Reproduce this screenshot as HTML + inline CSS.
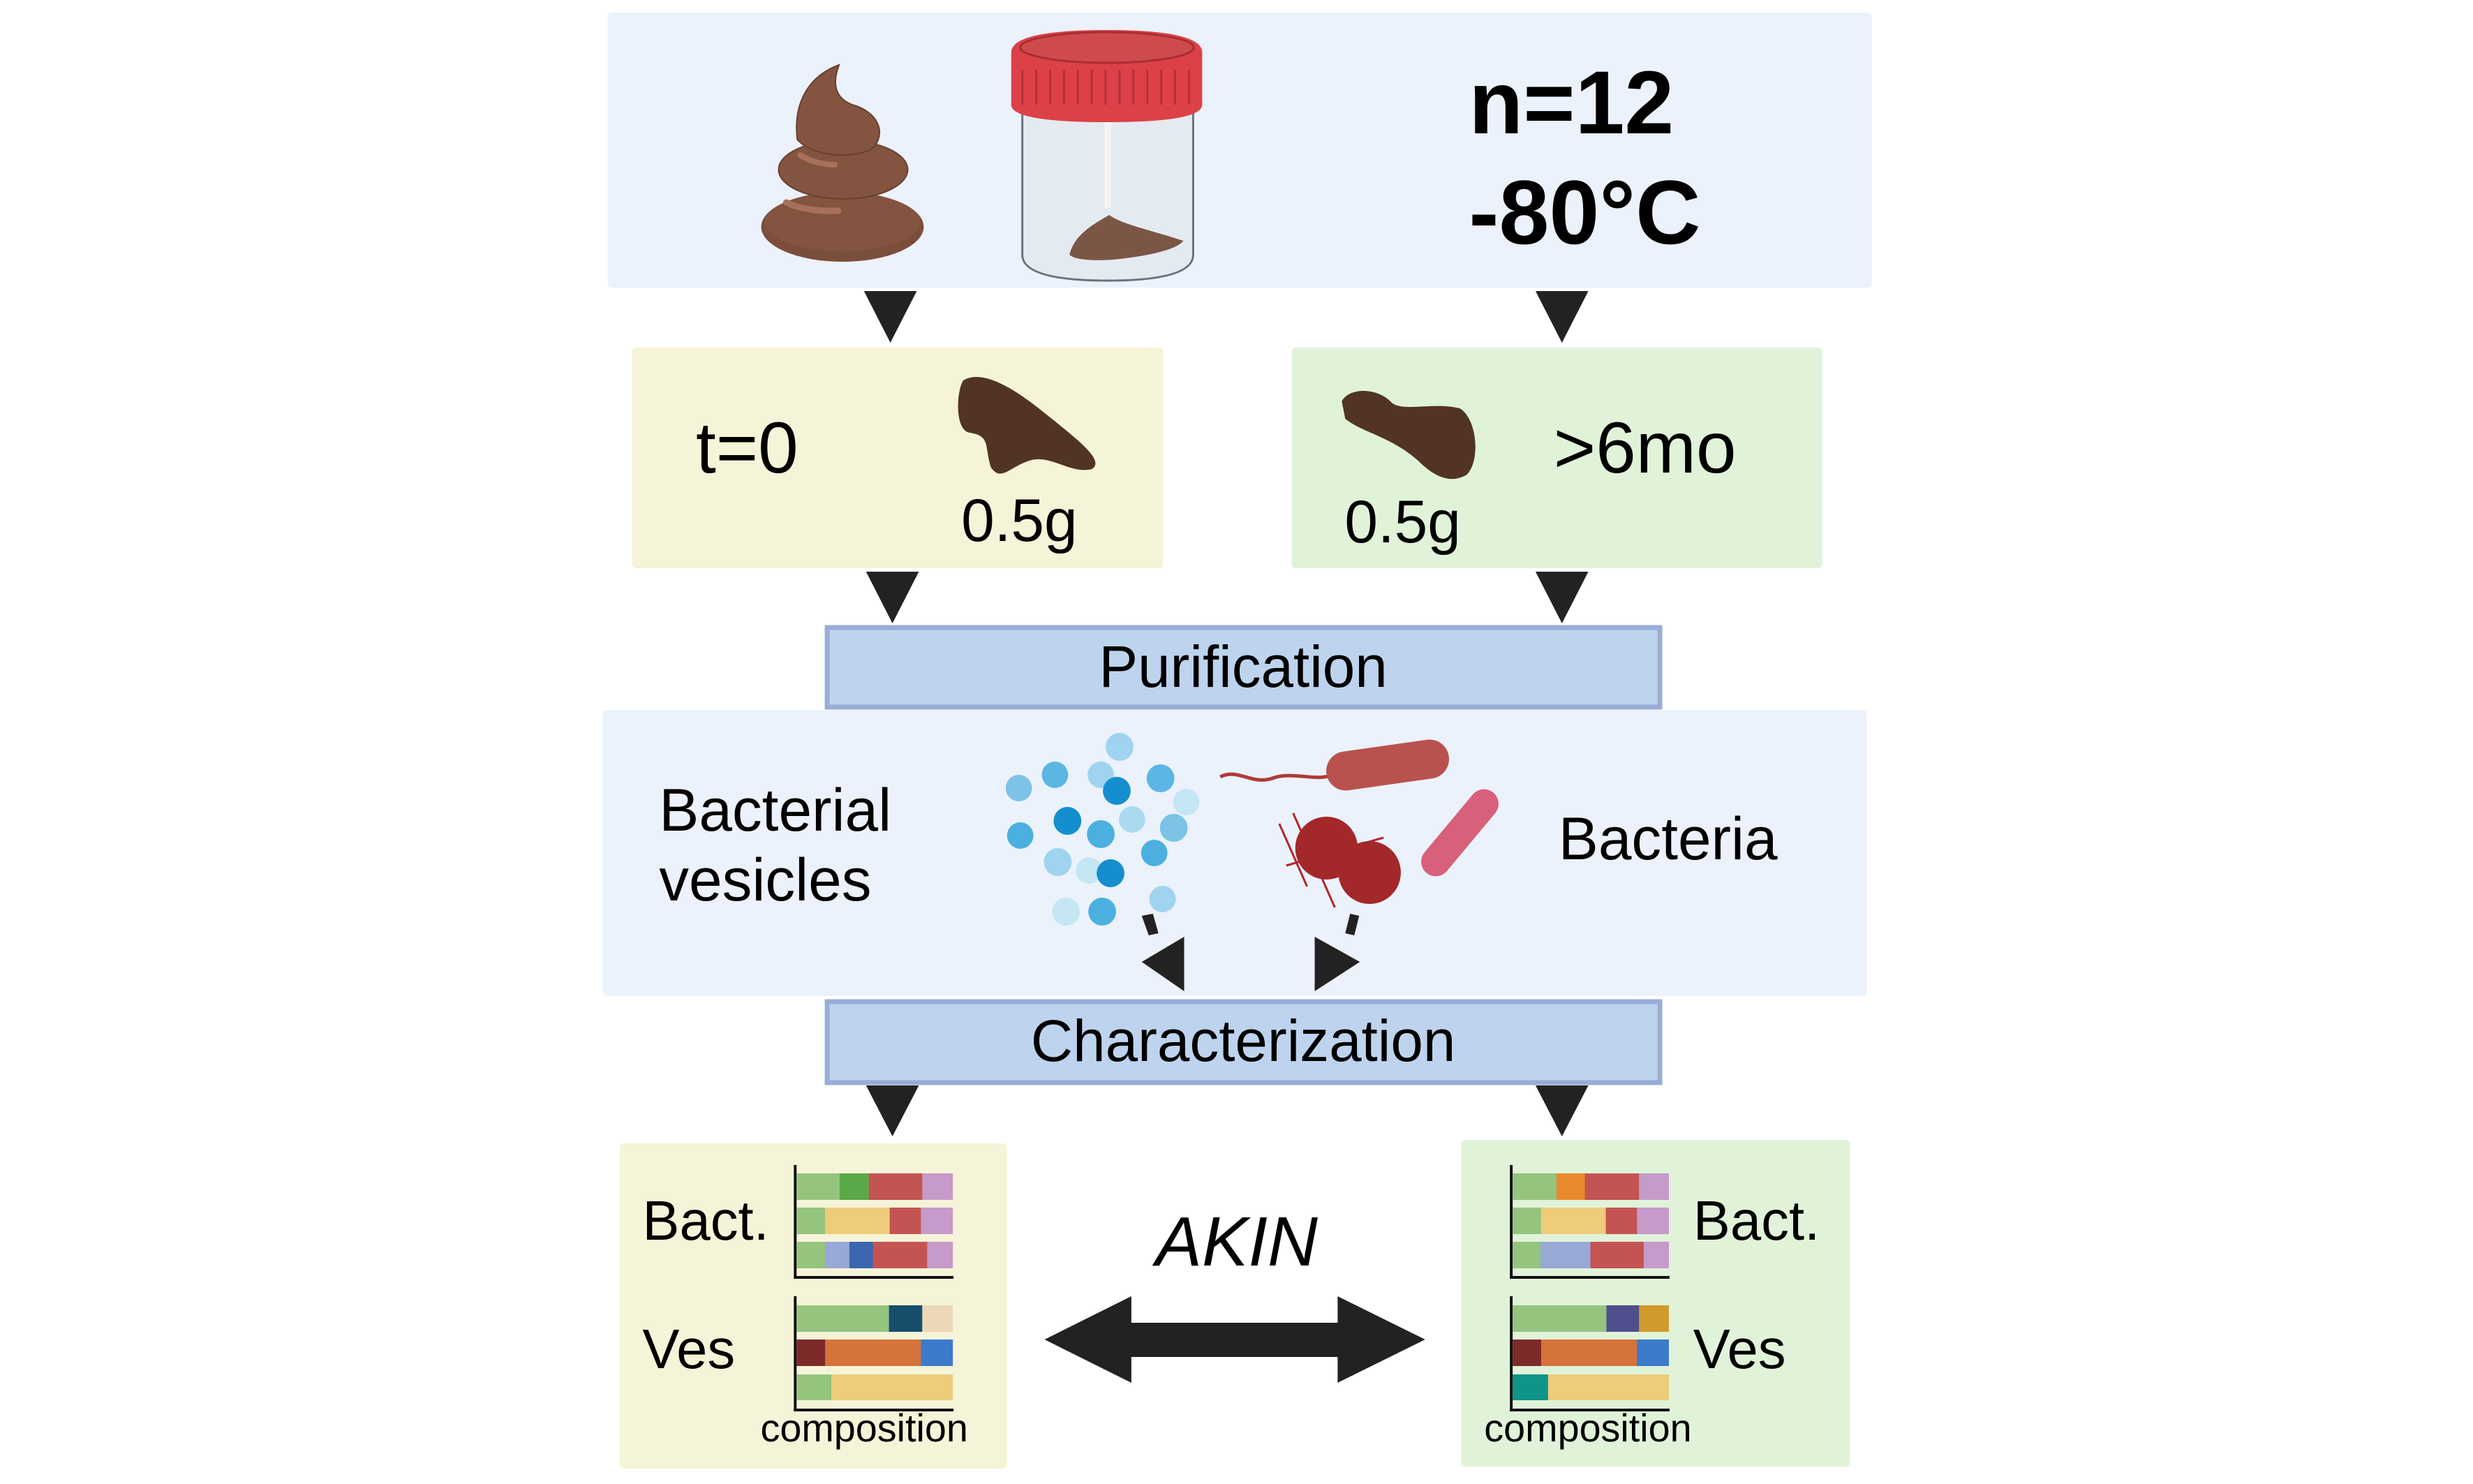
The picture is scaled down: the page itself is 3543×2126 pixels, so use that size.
<!DOCTYPE html>
<html><head><meta charset="utf-8"><style>
html,body{margin:0;padding:0;background:#fff}
svg{display:block}
text{font-family:"Liberation Sans",sans-serif;fill:#000}
</style></head><body>
<svg width="3543" height="2126" viewBox="0 0 3543 2126" xmlns="http://www.w3.org/2000/svg">
<g transform="translate(2,0) scale(0.995,1)">
<!-- boxes -->
<rect x="873" y="18" width="1820" height="394" rx="6" fill="#ebf2fb"/>
<rect x="908" y="498" width="765" height="316" rx="6" fill="#f5f4d8"/>
<rect x="1858" y="498" width="764" height="316" rx="6" fill="#e0f3d9"/>
<rect x="866" y="1017" width="1820" height="410" rx="6" fill="#ebf2fb"/>
<rect x="890" y="1638" width="558" height="466" rx="6" fill="#f5f4d8"/>
<rect x="2102" y="1633" width="560" height="468" rx="6" fill="#e0f3d9"/>
<rect x="1189" y="899" width="1199" height="114" fill="#bed3ed" stroke="#98acd6" stroke-width="7"/>
<rect x="1189" y="1435" width="1199" height="116" fill="#bed3ed" stroke="#98acd6" stroke-width="7"/>

<!-- arrows -->
<g fill="#222">
<polygon points="1242,417 1318,417 1280,491"/>
<polygon points="2209,417 2285,417 2247,491"/>
<polygon points="1245,819 1321,819 1283,893"/>
<polygon points="2209,819 2285,819 2247,893"/>
<polygon points="1245,1555 1321,1555 1283,1628"/>
<polygon points="2209,1555 2285,1555 2247,1628"/>
<polygon points="1642,1378 1703,1342 1703,1420"/>
<polygon points="1891,1342 1956,1378 1891,1420"/>
<polygon points="1642,1312 1658,1309 1666,1337 1652,1340"/>
<polygon points="1942,1309 1955,1312 1948,1340 1935,1337"/>
<polygon points="1502,1919 1627,1857 1627,1895 1924,1895 1924,1857 2050,1919 1924,1981 1924,1944 1627,1944 1627,1981"/>
</g>

<!-- poop -->
<g>
<ellipse cx="1211" cy="325" rx="117" ry="50" fill="#7b4e3b"/>
<ellipse cx="1211" cy="318" rx="112" ry="42" fill="#83543f"/>
<ellipse cx="1212" cy="243" rx="93" ry="42" fill="#83543f" stroke="#6a4030" stroke-width="2"/>
<path d="M1146,200 C1140,150 1160,110 1206,93 C1196,120 1200,140 1225,150 C1262,160 1275,190 1255,212 C1230,228 1170,226 1146,200 Z" fill="#83543f" stroke="#6a4030" stroke-width="2"/>
<path d="M1130,290 C1150,300 1180,303 1205,302" stroke="#a8705b" stroke-width="9" fill="none" stroke-linecap="round"/>
<path d="M1150,222 C1165,232 1185,236 1200,236" stroke="#a8705b" stroke-width="8" fill="none" stroke-linecap="round"/>
</g>
<!-- jar -->
<g>
<path d="M1470,160 L1716,160 L1716,365 Q1716,402 1593,402 Q1470,402 1470,365 Z" fill="#e4ebf0" stroke="#6c7278" stroke-width="3"/>
<rect x="1588" y="173" width="10" height="125" fill="#f2f4f6"/>
<path d="M1538,365 C1545,335 1575,320 1595,308 C1615,322 1650,328 1702,345 C1690,360 1640,368 1600,372 C1570,374 1545,372 1538,365 Z" fill="#7a5646"/>
<path d="M1454,75 Q1454,43 1592,43 Q1729,43 1729,75 L1729,150 Q1729,175 1592,175 Q1454,175 1454,150 Z" fill="#dc4148"/>
<ellipse cx="1592" cy="68" rx="125" ry="22" fill="#cf4a4d" stroke="#a82d33" stroke-width="3"/>
<g stroke="#b52f36" stroke-width="3">
<line x1="1470" y1="100" x2="1470" y2="150"/><line x1="1490" y1="100" x2="1490" y2="150"/><line x1="1510" y1="100" x2="1510" y2="150"/><line x1="1530" y1="100" x2="1530" y2="150"/><line x1="1550" y1="100" x2="1550" y2="150"/><line x1="1570" y1="100" x2="1570" y2="150"/><line x1="1590" y1="100" x2="1590" y2="150"/><line x1="1610" y1="100" x2="1610" y2="150"/><line x1="1630" y1="100" x2="1630" y2="150"/><line x1="1650" y1="100" x2="1650" y2="150"/><line x1="1670" y1="100" x2="1670" y2="150"/><line x1="1690" y1="100" x2="1690" y2="150"/><line x1="1710" y1="100" x2="1710" y2="150"/>
</g>
</g>

<!-- blobs -->
<path d="M1385,545 C1410,530 1450,550 1500,590 C1550,630 1590,660 1570,672 C1540,680 1510,650 1480,660 C1450,670 1440,690 1425,670 C1415,640 1425,625 1395,620 C1372,618 1375,560 1385,545 Z" fill="#513423"/>
<path d="M1930,575 C1940,555 1980,555 2000,575 C2015,592 2060,575 2100,585 C2125,600 2130,660 2110,680 C2085,695 2060,680 2040,660 C2000,625 1960,620 1935,600 Z" fill="#513423"/>

<!-- vesicles -->
<g>
<circle cx="1610" cy="1070" r="20" fill="#9fd3ef"/>
<circle cx="1517" cy="1110" r="19" fill="#5cb6e4"/>
<circle cx="1583" cy="1110" r="19" fill="#9fd3ef"/>
<circle cx="1606" cy="1133" r="20" fill="#158ecf"/>
<circle cx="1669" cy="1115" r="20" fill="#5cb6e4"/>
<circle cx="1465" cy="1129" r="19" fill="#7cc3e6"/>
<circle cx="1706" cy="1149" r="19" fill="#c5e6f5"/>
<circle cx="1535" cy="1176" r="20" fill="#158ecf"/>
<circle cx="1583" cy="1195" r="20" fill="#4bb0e0"/>
<circle cx="1628" cy="1174" r="19" fill="#a9daf0"/>
<circle cx="1688" cy="1186" r="20" fill="#7cc3e6"/>
<circle cx="1467" cy="1197" r="19" fill="#4bb0e0"/>
<circle cx="1521" cy="1235" r="20" fill="#9fd3ef"/>
<circle cx="1566" cy="1247" r="19" fill="#c5e6f5"/>
<circle cx="1597" cy="1251" r="20" fill="#158ecf"/>
<circle cx="1660" cy="1222" r="19" fill="#4bb0e0"/>
<circle cx="1533" cy="1306" r="20" fill="#c5e6f5"/>
<circle cx="1585" cy="1306" r="20" fill="#4bb0e0"/>
<circle cx="1672" cy="1288" r="19" fill="#9fd3ef"/>
</g>
<!-- bacteria -->
<g>
<path d="M1755,1113 C1780,1100 1800,1125 1830,1115 C1855,1105 1890,1118 1910,1112" stroke="#b03a3a" stroke-width="5" fill="none"/>
<rect x="1907" y="1068" width="178" height="56" rx="28" fill="#b9524f" transform="rotate(-8 1996 1096)"/>
<g stroke="#b5242a" stroke-width="3">
<line x1="1840" y1="1180" x2="1880" y2="1270"/><line x1="1860" y1="1165" x2="1920" y2="1300"/><line x1="1850" y1="1240" x2="1990" y2="1200"/>
</g>
<circle cx="1908" cy="1215" r="45" fill="#a3282a"/>
<circle cx="1970" cy="1250" r="45" fill="#a3282a"/>
<rect x="2025" y="1172" width="150" height="42" rx="21" fill="#d9607a" transform="rotate(-50 2100 1193)"/>
</g>

<!-- charts left -->
<g>
<line x1="1143" y1="1669" x2="1143" y2="1832" stroke="#111" stroke-width="4"/>
<line x1="1141" y1="1830" x2="1371" y2="1830" stroke="#111" stroke-width="4"/>
<rect x="1145" y="1681" width="63" height="38" fill="#95c47f"/><rect x="1207" y="1681" width="43" height="38" fill="#5aa847"/><rect x="1249" y="1681" width="78" height="38" fill="#c45452"/><rect x="1326" y="1681" width="44" height="38" fill="#c69ac9"/>
<rect x="1145" y="1730" width="42" height="38" fill="#95c47f"/><rect x="1186" y="1730" width="94" height="38" fill="#efcc7a"/><rect x="1279" y="1730" width="46" height="38" fill="#c45452"/><rect x="1324" y="1730" width="46" height="38" fill="#c69ac9"/>
<rect x="1145" y="1779" width="42" height="38" fill="#95c47f"/><rect x="1186" y="1779" width="36" height="38" fill="#97a9d4"/><rect x="1221" y="1779" width="35" height="38" fill="#3c67b0"/><rect x="1255" y="1779" width="79" height="38" fill="#c45452"/><rect x="1333" y="1779" width="37" height="38" fill="#c69ac9"/>
<line x1="1143" y1="1857" x2="1143" y2="2022" stroke="#111" stroke-width="4"/>
<line x1="1141" y1="2020" x2="1371" y2="2020" stroke="#111" stroke-width="4"/>
<rect x="1145" y="1870" width="134" height="38" fill="#95c47f"/><rect x="1278" y="1870" width="48" height="38" fill="#174e6b"/><rect x="1326" y="1870" width="44" height="38" fill="#ecd7b8"/>
<rect x="1145" y="1919" width="42" height="38" fill="#7c2a2a"/><rect x="1186" y="1919" width="139" height="38" fill="#d6733a"/><rect x="1324" y="1919" width="46" height="38" fill="#3c7bcb"/>
<rect x="1145" y="1969" width="51" height="37" fill="#95c47f"/><rect x="1195" y="1969" width="175" height="37" fill="#edcd7a"/>
</g>
<!-- charts right -->
<g>
<line x1="2174" y1="1669" x2="2174" y2="1832" stroke="#111" stroke-width="4"/>
<line x1="2172" y1="1830" x2="2402" y2="1830" stroke="#111" stroke-width="4"/>
<rect x="2176" y="1681" width="64" height="38" fill="#95c47f"/><rect x="2239" y="1681" width="42" height="38" fill="#e8892e"/><rect x="2280" y="1681" width="79" height="38" fill="#c45452"/><rect x="2358" y="1681" width="43" height="38" fill="#c69ac9"/>
<rect x="2176" y="1730" width="42" height="38" fill="#95c47f"/><rect x="2217" y="1730" width="94" height="38" fill="#efcc7a"/><rect x="2310" y="1730" width="46" height="38" fill="#c45452"/><rect x="2355" y="1730" width="46" height="38" fill="#c69ac9"/>
<rect x="2176" y="1779" width="41" height="38" fill="#95c47f"/><rect x="2216" y="1779" width="73" height="38" fill="#97a9d4"/><rect x="2288" y="1779" width="77" height="38" fill="#c45452"/><rect x="2365" y="1779" width="36" height="38" fill="#c69ac9"/>
<line x1="2174" y1="1857" x2="2174" y2="2022" stroke="#111" stroke-width="4"/>
<line x1="2172" y1="2020" x2="2402" y2="2020" stroke="#111" stroke-width="4"/>
<rect x="2176" y="1870" width="136" height="38" fill="#95c47f"/><rect x="2311" y="1870" width="48" height="38" fill="#4f4f8d"/><rect x="2358" y="1870" width="43" height="38" fill="#d09b2c"/>
<rect x="2176" y="1919" width="42" height="38" fill="#7c2a2a"/><rect x="2217" y="1919" width="139" height="38" fill="#d6733a"/><rect x="2355" y="1919" width="46" height="38" fill="#3c7bcb"/>
<rect x="2176" y="1969" width="52" height="37" fill="#0f9488"/><rect x="2227" y="1969" width="174" height="37" fill="#edcd7a"/>
</g>

<!-- text -->
<text x="2113" y="191" font-size="128" font-weight="bold">n=12</text>
<text x="2113" y="349" font-size="130" font-weight="bold">-80°C</text>
<text x="1000" y="677" font-size="104">t=0</text>
<text x="1382" y="775" font-size="86">0.5g</text>
<text x="1934" y="777" font-size="86">0.5g</text>
<text x="2235" y="677" font-size="104">&gt;6mo</text>
<text x="1788" y="984" font-size="84" text-anchor="middle">Purification</text>
<text x="947" y="1190" font-size="86">Bacterial</text>
<text x="947" y="1290" font-size="86">vesicles</text>
<text x="2242" y="1231" font-size="86">Bacteria</text>
<text x="1788" y="1520" font-size="84" text-anchor="middle">Characterization</text>
<text x="923" y="1776" font-size="80">Bact.</text>
<text x="923" y="1960" font-size="80">Ves</text>
<text x="2436" y="1776" font-size="80">Bact.</text>
<text x="2436" y="1960" font-size="80">Ves</text>
<text x="1093" y="2065" font-size="56">composition</text>
<text x="2135" y="2065" font-size="56">composition</text>
<text x="1662" y="1813" font-size="100" font-style="italic">AKIN</text>
</g>
</svg>
</body></html>
